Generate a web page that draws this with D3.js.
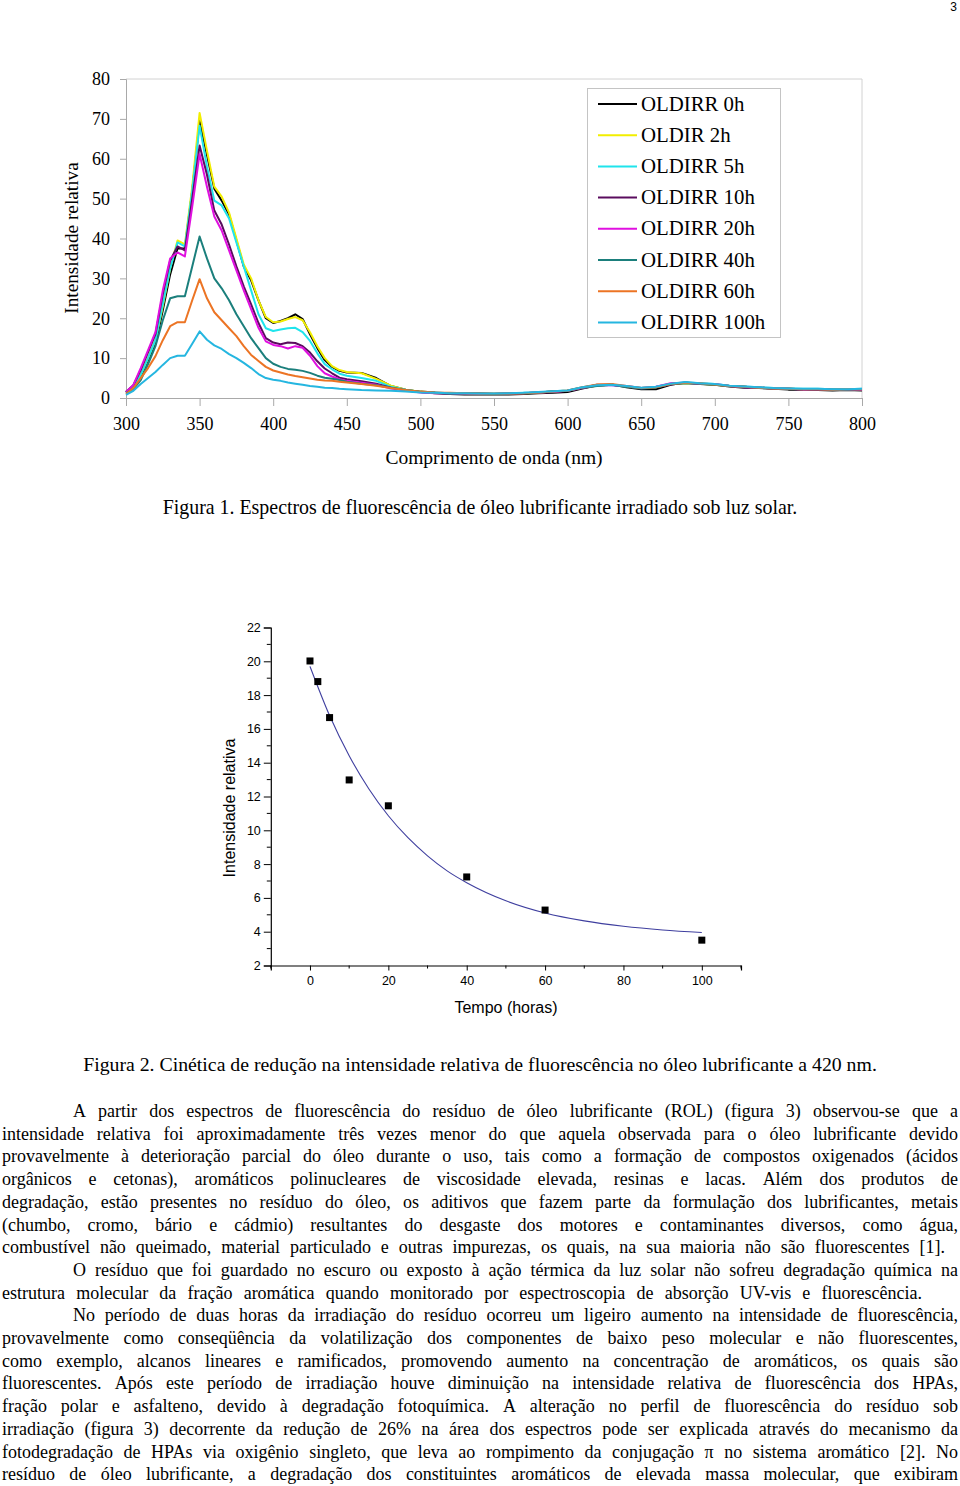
<!DOCTYPE html>
<html><head><meta charset="utf-8">
<script src="https://cdn.jsdelivr.net/npm/d3@7"></script>
<style>
body{margin:0;background:#fff;width:960px;height:1486px;overflow:hidden;}
svg{display:block;}
</style></head><body>
<svg id="chart" width="960" height="1486"></svg>
<script>
// ---------- DATA ----------
const pageNumber = "3";

// Figure 1: wavelengths (nm)
const wavelengths = [300,305,310,315,320,325,330,335,340,345,350,355,360,365,370,375,380,385,390,395,400,405,410,415,420,425,430,435,440,445,450,
  460,470,480,490,500,510,520,530,540,550,560,570,580,590,600,610,620,630,640,650,660,670,680,690,700,710,720,730,740,750,760,770,780,790,800];

const oldirr0h   = [1.5,3,5.5,9.5,13.5,22,31,37.5,37.5,52,69.5,61,52.5,49.5,46,39.5,33,29.5,24.5,20,18.8,19.3,20,21,19.8,16,12.5,9.5,7.8,6.8,6.4,
  6.3,5.0,3.0,2.1,1.5, 1.2,1.0,0.9,0.9,0.9,0.9,1.0,1.2,1.3,1.5,2.4,3.1,3.4,2.7,2.2,2.2,3.3,3.9,3.5,3.3,2.9,2.6,2.5,2.3,2.1,2.1,2.0,1.9,2.0,1.9];
const oldir2h    = [1.5,3,5.8,10,14.5,23,32.5,39.5,38.5,53,71.5,62,53,50.5,46.5,40,33.5,30,24.5,20.3,19,19.2,19.8,20.3,19.5,16.5,13,10,8,7,6.5,
  6.2,4.8,3.1,2.1,1.6, 1.3,1.2,1.1,1.0,1.0,1.1,1.2,1.3,1.6,1.8,2.6,3.1,3.3,2.9,2.5,2.7,3.5,3.7,3.6,3.3,3.0,2.8,2.6,2.4,2.3,2.2,2.2,2.1,2.1,2.2];
const oldirr5h   = [1.5,3,5.8,10,14.5,23.5,32.5,39,38,52,68.3,58,49.5,48.3,45,39,33,27,21,17.5,16.8,17.2,17.5,17.6,16.5,14.3,11.2,8.5,7.2,6.1,5.6,
  5.0,4.3,2.8,2.1,1.5, 1.3,1.2,1.1,1.1,1.1,1.2,1.3,1.4,1.7,1.9,2.7,3.2,3.2,2.9,2.5,2.8,3.6,3.9,3.7,3.5,3.1,2.9,2.7,2.5,2.4,2.3,2.3,2.2,2.2,2.3];
const oldirr10h  = [1.5,3.2,7,11.5,16,26,34.5,38,37,50,63.3,56,47,43.5,38.5,33,28,23.5,18.8,15,13.9,13.5,13.9,13.8,13,11.4,9.2,7.4,6.2,5.1,4.7,
  4.2,3.6,2.6,1.9,1.5, 1.3,1.2,1.1,1.1,1.0,1.1,1.2,1.4,1.6,1.8,2.6,3.3,3.3,2.9,2.4,2.7,3.4,3.8,3.6,3.4,3.0,2.8,2.6,2.4,2.3,2.2,2.2,2.1,2.1,2.2];
const oldirr20h  = [1.5,3.3,7.5,12,16.5,27,35,36.5,35.5,48,61.2,53,45.5,42,37,32,27,22.3,17.6,14.2,13.3,13,12.4,13,12.6,10.6,8,6.2,5.4,4.7,4.3,
  3.8,3.3,2.4,1.9,1.4, 1.2,1.2,1.1,1.0,1.0,1.1,1.2,1.4,1.5,1.8,2.5,3.2,3.2,3.0,2.5,2.8,3.7,3.8,3.5,3.5,3.0,2.7,2.6,2.4,2.3,2.1,2.2,2.0,2.1,2.1];
const oldirr40h  = [1.2,2.2,4.5,8.5,13,19.5,25,25.5,25.5,33,40.5,35,30,27.5,24.5,21,18,15,12.5,10,8.6,7.8,7.3,7.1,6.8,6.3,5.6,5.1,4.8,4.5,4.1,
  3.6,3.2,2.6,2.0,1.6, 1.4,1.2,1.2,1.1,1.0,1.1,1.2,1.4,1.6,1.8,2.6,3.0,3.3,2.8,2.4,2.6,3.5,3.7,3.6,3.3,3.0,2.8,2.6,2.4,2.3,2.2,2.2,2.1,2.1,2.2];
const oldirr60h  = [1.0,2.5,5,7.5,10.5,14.5,18,19,19,24.5,29.8,25,21.5,19.5,17.5,15.5,13,10.8,9.3,7.8,6.9,6.4,5.9,5.5,5.2,4.9,4.6,4.4,4.3,4.1,3.9,
  3.5,3.1,2.5,2.0,1.6, 1.4,1.3,1.2,1.1,1.1,1.1,1.2,1.4,1.6,1.9,2.7,3.4,3.5,3.0,2.5,2.7,3.5,3.8,3.7,3.4,3.0,2.8,2.6,2.4,2.3,2.2,2.2,2.1,2.2,2.2];
const oldirr100h = [0.8,1.8,3.5,5,6.5,8.3,10,10.6,10.6,13.6,16.7,14.6,13.2,12.3,11,10,8.8,7.5,6,5,4.6,4.3,3.9,3.6,3.3,3.0,2.8,2.6,2.5,2.3,2.2,
  2.0,1.9,1.8,1.6,1.4, 1.3,1.2,1.2,1.1,1.1,1.2,1.3,1.5,1.7,1.9,2.7,3.2,3.3,3.0,2.6,2.8,3.6,4.0,3.7,3.5,3.1,2.9,2.7,2.5,2.4,2.3,2.3,2.2,2.2,2.3];

const seriesNames = ["OLDIRR 0h","OLDIR 2h","OLDIRR 5h","OLDIRR 10h","OLDIRR 20h","OLDIRR 40h","OLDIRR 60h","OLDIRR 100h"];
const seriesValues = [oldirr0h, oldir2h, oldirr5h, oldirr10h, oldirr20h, oldirr40h, oldirr60h, oldirr100h];
const xTicks1 = [300,350,400,450,500,550,600,650,700,750,800];
const yTicks1 = [0,10,20,30,40,50,60,70,80];

// Figure 2
const tempo = [0,2,5,10,20,40,60,100];
const intensidade = [20.02,18.8,16.67,12.98,11.45,7.24,5.28,3.5];
const fitTempo = [0,5,10,15,20,25,30,35,40,50,60,70,80,90,100];
const fitIntensidade = [19.7,16.79,14.41,12.46,10.86,9.56,8.49,7.6,6.9,5.83,5.11,4.64,4.32,4.1,3.95];
const xTicks2 = [0,20,40,60,80,100];
const xMinor2 = [-10,10,30,50,70,90,110];
const yTicks2 = [2,4,6,8,10,12,14,16,18,20,22];
const yMinor2 = [3,5,7,9,11,13,15,17,19,21];

// Texts
const fig1Caption = "Figura 1. Espectros de fluorescência de óleo lubrificante irradiado sob luz solar.";
const fig2Caption = "Figura 2. Cinética de redução na intensidade relativa de fluorescência no óleo lubrificante a 420 nm.";
const fig1XTitle = "Comprimento de onda (nm)";
const fig1YTitle = "Intensidade relativa";
const fig2XTitle = "Tempo (horas)";
const fig2YTitle = "Intensidade relativa";
const paragraphs = [
 ["A partir dos espectros de fluorescência do resíduo de óleo lubrificante (ROL) (figura 3) observou-se que a",
  "intensidade relativa foi aproximadamente três vezes menor do que aquela observada para o óleo lubrificante devido",
  "provavelmente à deterioração parcial do óleo durante o uso, tais como a formação de compostos oxigenados (ácidos",
  "orgânicos e cetonas), aromáticos polinucleares de viscosidade elevada, resinas e lacas. Além dos produtos de",
  "degradação, estão presentes no resíduo do óleo, os aditivos que fazem parte da formulação dos lubrificantes, metais",
  "(chumbo, cromo, bário e cádmio) resultantes do desgaste dos motores e contaminantes diversos, como água,",
  "combustível não queimado, material particulado e outras impurezas, os quais, na sua maioria não são fluorescentes [1]."],
 ["O resíduo que foi guardado no escuro ou exposto à ação térmica da luz solar não sofreu degradação química na",
  "estrutura molecular da fração aromática quando monitorado por espectroscopia de absorção UV-vis e fluorescência."],
 ["No período de duas horas da irradiação do resíduo ocorreu um ligeiro aumento na intensidade de fluorescência,",
  "provavelmente como conseqüência da volatilização dos componentes de baixo peso molecular e não fluorescentes,",
  "como exemplo, alcanos lineares e ramificados, promovendo aumento na concentração de aromáticos, os quais são",
  "fluorescentes. Após este período de irradiação houve diminuição na intensidade relativa de fluorescência dos HPAs,",
  "fração polar e asfalteno, devido à degradação fotoquímica. A alteração no perfil de fluorescência do resíduo sob",
  "irradiação (figura 3) decorrente da redução de 26% na área dos espectros pode ser explicada através do mecanismo da",
  "fotodegradação de HPAs via oxigênio singleto, que leva ao rompimento da conjugação π no sistema aromático [2]. No",
  "resíduo de óleo lubrificante, a degradação dos constituintes aromáticos de elevada massa molecular, que exibiram"]
];

// ---------- STYLE / LAYOUT ----------
const colors = ["#000000","#f2ee00","#1fe4ec","#5a0c5e","#e010e0","#1b7f7c","#ec7424","#25b6e0"];
const serif = "'Liberation Serif','Times New Roman',serif";
const sans = "'Liberation Sans',Arial,sans-serif";

const svg = d3.select("#chart");
svg.append("rect").attr("width",960).attr("height",1486).attr("fill","#fff");
svg.append("text").attr("x",957).attr("y",11).attr("text-anchor","end")
  .attr("font-family",sans).attr("font-size",12).text(pageNumber);

// ---------- FIGURE 1 ----------
const x1 = d3.scaleLinear().domain([300,800]).range([126,862]);
const y1 = d3.scaleLinear().domain([0,80]).range([398,79]);
const g1 = svg.append("g");

g1.append("path").attr("d",`M${x1(300)},${y1(80)}H${x1(800)}V${y1(0)}`)
  .attr("fill","none").attr("stroke","#d2d2d2").attr("stroke-width",1);

const gy1 = g1.append("g").attr("transform",`translate(${x1(300)},0)`)
  .call(d3.axisLeft(y1).tickValues(yTicks1).tickSize(6).tickPadding(10).tickFormat(d3.format("d")));
const gx1 = g1.append("g").attr("transform",`translate(0,${y1(0)})`)
  .call(d3.axisBottom(x1).tickValues(xTicks1).tickSize(8).tickPadding(11).tickFormat(d3.format("d")));
[gy1,gx1].forEach(g=>{
  g.attr("font-family",serif).attr("font-size",18);
  g.select(".domain").attr("stroke","#a9a9a9");
  g.selectAll(".tick line").attr("stroke","#a9a9a9");
  g.selectAll(".tick text").attr("fill","#000");
});

const line1 = d3.line().x((d,i)=>x1(wavelengths[i])).y(d=>y1(d));
seriesValues.forEach((vals,k)=>{
  g1.append("path").datum(vals).attr("d",line1).attr("fill","none")
    .attr("stroke",colors[k]).attr("stroke-width",2).attr("stroke-linejoin","round");
});

g1.append("text").attr("x",494).attr("y",464).attr("text-anchor","middle")
  .attr("font-family",serif).attr("font-size",19.5).text(fig1XTitle);
g1.append("text").attr("transform","translate(78,238) rotate(-90)").attr("text-anchor","middle")
  .attr("font-family",serif).attr("font-size",19.3).text(fig1YTitle);

// legend
const lg = g1.append("g");
lg.append("rect").attr("x",587.5).attr("y",88.5).attr("width",193).attr("height",249)
  .attr("fill","#fff").attr("stroke","#c4c4c4");
seriesNames.forEach((n,k)=>{
  const yy = 104 + k*31.2;
  lg.append("line").attr("x1",598).attr("x2",637).attr("y1",yy).attr("y2",yy)
    .attr("stroke",colors[k]).attr("stroke-width",2);
  lg.append("text").attr("x",641).attr("y",yy+6.5).attr("font-family",serif)
    .attr("font-size",20.8).text(n);
});

svg.append("text").attr("x",480).attr("y",514).attr("text-anchor","middle")
  .attr("font-family",serif).attr("font-size",19.9).text(fig1Caption);

// ---------- FIGURE 2 ----------
const x2 = d3.scaleLinear().domain([-10,110]).range([270.8,741]);
const y2 = d3.scaleLinear().domain([2,22]).range([965.5,627.5]);
const g2 = svg.append("g");

const gy2 = g2.append("g").attr("transform",`translate(${x2(-10)},0)`)
  .call(d3.axisLeft(y2).tickValues(yTicks2).tickSize(7).tickPadding(3).tickFormat(d3.format("d")));
const gx2 = g2.append("g").attr("transform",`translate(0,${y2(2)})`)
  .call(d3.axisBottom(x2).tickValues(xTicks2).tickSize(5).tickPadding(6).tickFormat(d3.format("d")));
[gy2,gx2].forEach(g=>{
  g.attr("font-family",sans).attr("font-size",12.5);
  g.select(".domain").attr("stroke","#000").attr("stroke-width",1.2);
  g.selectAll(".tick line").attr("stroke","#000");
  g.selectAll(".tick text").attr("fill","#000");
});
gy2.selectAll(".minor").data(yMinor2).enter().append("line")
  .attr("x1",0).attr("x2",-4).attr("y1",d=>y2(d)).attr("y2",d=>y2(d)).attr("stroke","#000");
gx2.selectAll(".minor").data(xMinor2).enter().append("line")
  .attr("y1",0).attr("y2",3).attr("x1",d=>x2(d)).attr("x2",d=>x2(d)).attr("stroke","#000");

const line2 = d3.line().x((d,i)=>x2(fitTempo[i])).y(d=>y2(d)).curve(d3.curveMonotoneX);
g2.append("path").datum(fitIntensidade).attr("d",line2).attr("fill","none")
  .attr("stroke","#3f3f9f").attr("stroke-width",1.1);

g2.selectAll(".pt").data(intensidade).enter().append("rect")
  .attr("x",(d,i)=>x2(tempo[i])-3.5).attr("y",d=>y2(d)-3.5)
  .attr("width",7).attr("height",7).attr("fill","#000");

g2.append("text").attr("x",506).attr("y",1013).attr("text-anchor","middle")
  .attr("font-family",sans).attr("font-size",16).text(fig2XTitle);
g2.append("text").attr("transform","translate(235,808) rotate(-90)").attr("text-anchor","middle")
  .attr("font-family",sans).attr("font-size",16).text(fig2YTitle);

svg.append("text").attr("x",480).attr("y",1071).attr("text-anchor","middle")
  .attr("font-family",serif).attr("font-size",19.8).text(fig2Caption);

// ---------- BODY TEXT (justified word by word) ----------
const tg = svg.append("g").attr("font-family",serif).attr("font-size",18);
let lineIdx = 0;
const leftEdge = 2, rightEdge = 958, indent = 73;
const lastRight = [945, 922, null];
paragraphs.forEach((lines,p)=>{
  lines.forEach((ln,j)=>{
    const yb = 1117 + lineIdx*22.7;
    const x0 = j===0 ? indent : leftEdge;
    let x1e = rightEdge;
    if (j===lines.length-1 && lastRight[p]) x1e = lastRight[p];
    const words = ln.split(" ");
    const nodes = words.map(w=>tg.append("text").attr("y",yb).text(w));
    const widths = nodes.map(n=>n.node().getComputedTextLength());
    const total = d3.sum(widths);
    const gap = words.length>1 ? (x1e - x0 - total)/(words.length-1) : 0;
    let cx = x0;
    nodes.forEach((n,i)=>{ n.attr("x",cx); cx += widths[i] + gap; });
    lineIdx++;
  });
});
</script>
</body></html>
